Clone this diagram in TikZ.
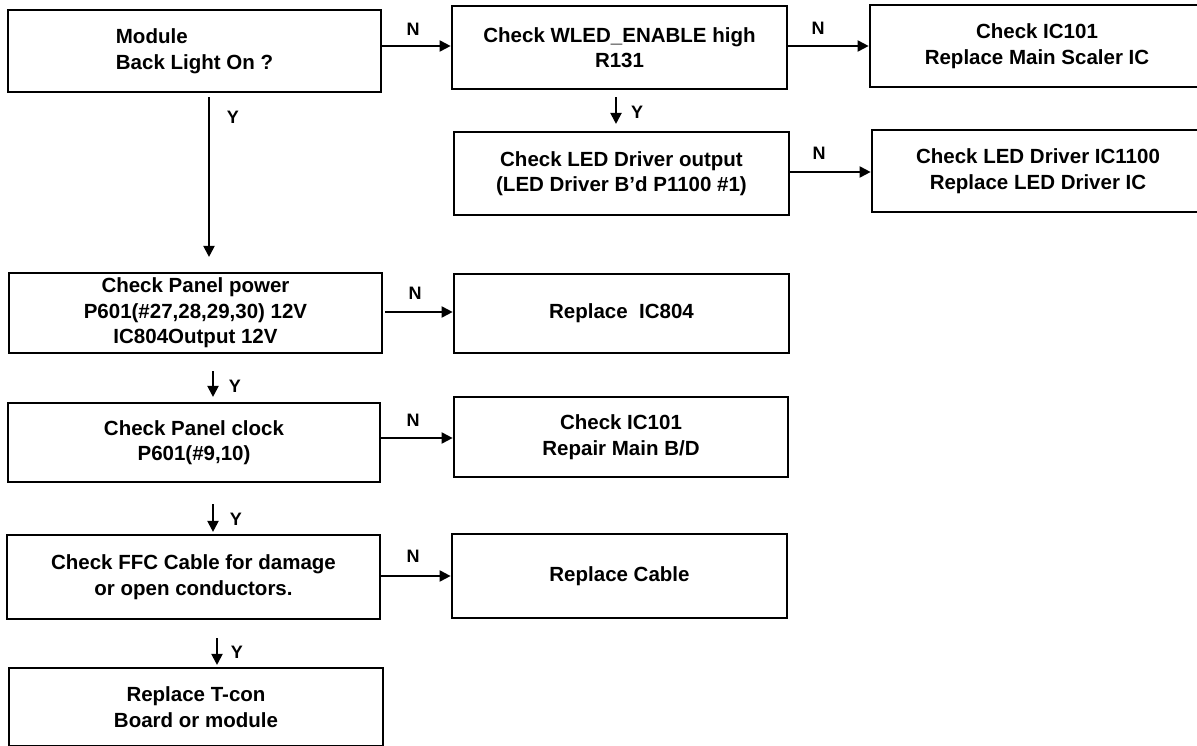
\documentclass[tikz,border=0pt]{standalone}
\usepackage{fontspec}
\setmainfont{Liberation Sans}
\usetikzlibrary{arrows.meta}
\begin{document}
\begin{tikzpicture}[x=1pt,y=-1pt,
  box/.style={draw, line width=2.7pt, inner sep=0pt, align=center,
    font=\bfseries\fontsize{20.5}{25.5}\selectfont},
  wh/.style 2 args={minimum width=#1pt, minimum height=#2pt},
  arr/.style={line width=2pt, -{Triangle[length=11pt,width=11pt]}},
  lab/.style={font=\bfseries\fontsize{18}{20}\selectfont, inner sep=0pt}]
\useasboundingbox (0,0) rectangle (1197,746);
\clip (0,0) rectangle (1197,746);

\node[box, wh={373}{82}, align=left] (b1) at (194.5,51) {Module\\Back Light On ?};
\node[box, wh={335}{83}] (b2) at (619.5,47.5) {Check WLED\_ENABLE high\\R131};
\node[box, wh={334}{82}] (b3) at (1037,46) {Check IC101\\Replace Main Scaler IC};
\node[box, wh={335}{83}] (b4) at (621.5,173.5) {Check LED Driver output\\(LED Driver B’d P1100 \#1)};
\node[box, wh={332}{82}] (b5) at (1038,171) {Check LED Driver IC1100\\Replace LED Driver IC};
\node[box, wh={373}{80}] (b6) at (195.5,313) {Check Panel power\\P601(\#27,28,29,30) 12V\\IC804Output 12V};
\node[box, wh={335}{79}] (b7) at (621.5,313.5) {Replace\ \ IC804};
\node[box, wh={372}{79}] (b8) at (194,442.5) {Check Panel clock\\P601(\#9,10)};
\node[box, wh={334}{80}] (b9) at (621,437) {Check IC101\\Repair Main B/D};
\node[box, wh={373}{84}] (b10) at (193.5,577) {Check FFC Cable for damage\\or open conductors.};
\node[box, wh={335}{84}] (b11) at (619.5,576) {Replace Cable};
\node[box, wh={374}{78}] (b12) at (196,707) {Replace T-con\\Board or module};

% N connectors
\draw[arr] (b1.east |- 0,46) -- (b2.west |- 0,46);
\draw[arr] (b2.east |- 0,46) -- (b3.west |- 0,46);
\draw[arr] (b4.east |- 0,172) -- (b5.west |- 0,172);
\draw[arr, shorten <=2pt] (b6.east |- 0,312) -- (b7.west |- 0,312);
\draw[arr] (b8.east |- 0,438) -- (b9.west |- 0,438);
\draw[arr] (b10.east |- 0,576) -- (b11.west |- 0,576);

% Y connectors
\draw[arr, shorten <=4pt, shorten >=14.7pt] (b1.south -| 209,0) -- (b6.north -| 209,0);
\draw[arr, shorten <=6.7pt, shorten >=6.7pt] (b2.south -| 616,0) -- (b4.north -| 616,0);
\draw[arr, shorten <=16.7pt, shorten >=4.7pt] (b6.south -| 213,0) -- (b8.north -| 213,0);
\draw[arr, shorten <=21pt, shorten >=1.7pt] (b8.south -| 213,0) -- (b10.north -| 213,0);
\draw[arr, shorten <=17.7pt, shorten >=1.7pt] (b10.south -| 217,0) -- (b12.north -| 217,0);

% labels
\node[lab] (n1) at (413,29) {N};
\node[lab] (n2) at (818,28) {N};
\node[lab] (n3) at (819,153) {N};
\node[lab] (n4) at (415,293) {N};
\node[lab] (n5) at (413,420) {N};
\node[lab] (n6) at (413,556) {N};
\node[lab] (y1) at (233,117) {Y};
\node[lab] (y2) at (637,112) {Y};
\node[lab] (y3) at (235,386) {Y};
\node[lab] (y4) at (236,519) {Y};
\node[lab] (y5) at (237,652) {Y};
\end{tikzpicture}
\end{document}
